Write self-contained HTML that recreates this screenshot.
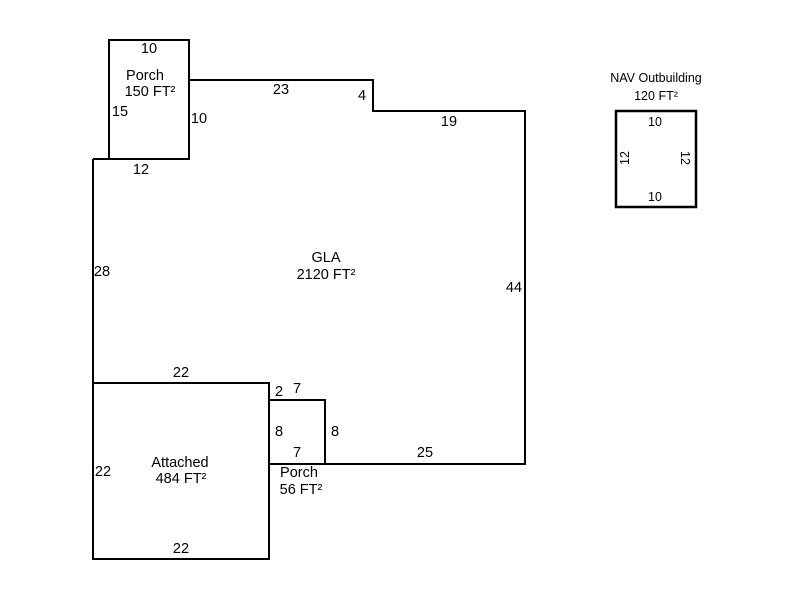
<!DOCTYPE html><html><head><style>body{margin:0;background:#fff}</style></head><body>
<svg width="800" height="600" xmlns="http://www.w3.org/2000/svg" font-family="Liberation Sans, Arial, sans-serif" font-size="14.5" fill="#000">
<g stroke="#000" stroke-width="2" fill="none">
<rect x="109" y="40" width="80" height="119"/>
<polyline points="189,80 373,80 373,111 525,111 525,464 325,464"/>
<line x1="93" y1="159" x2="109" y2="159"/>
<line x1="93" y1="159" x2="93" y2="383"/>
<rect x="93" y="383" width="176" height="176"/>
<polyline points="269,400 325,400 325,464"/>
<line x1="269" y1="464" x2="325" y2="464"/>
<rect x="616" y="111" width="80" height="96" stroke-width="2.5"/>
</g>
<g text-anchor="middle">
<text x="149" y="53">10</text>
<text x="145" y="80">Porch</text>
<text x="150" y="96">150 FT²</text>
<text x="120" y="116">15</text>
<text x="199" y="123">10</text>
<text x="141" y="174">12</text>
<text x="281" y="94">23</text>
<text x="362" y="100">4</text>
<text x="449" y="126">19</text>
<text x="326" y="262">GLA</text>
<text x="326" y="279">2120 FT²</text>
<text x="102" y="276">28</text>
<text x="514" y="292">44</text>
<text x="181" y="377">22</text>
<text x="279" y="396">2</text>
<text x="297" y="393">7</text>
<text x="279" y="436">8</text>
<text x="335" y="436">8</text>
<text x="297" y="457">7</text>
<text x="425" y="457">25</text>
<text x="299" y="477">Porch</text>
<text x="301" y="494">56 FT²</text>
<text x="180" y="467">Attached</text>
<text x="181" y="483">484 FT²</text>
<text x="103" y="476">22</text>
<text x="181" y="553">22</text>
<g font-size="12.5">
<text x="656" y="82">NAV Outbuilding</text>
<text x="656" y="100">120 FT²</text>
<text x="655" y="126">10</text>
<text x="655" y="201">10</text>
<text transform="translate(629,158) rotate(-90)">12</text>
<text transform="translate(681,158) rotate(90)">12</text>
</g>
</g>
</svg>
</body></html>
